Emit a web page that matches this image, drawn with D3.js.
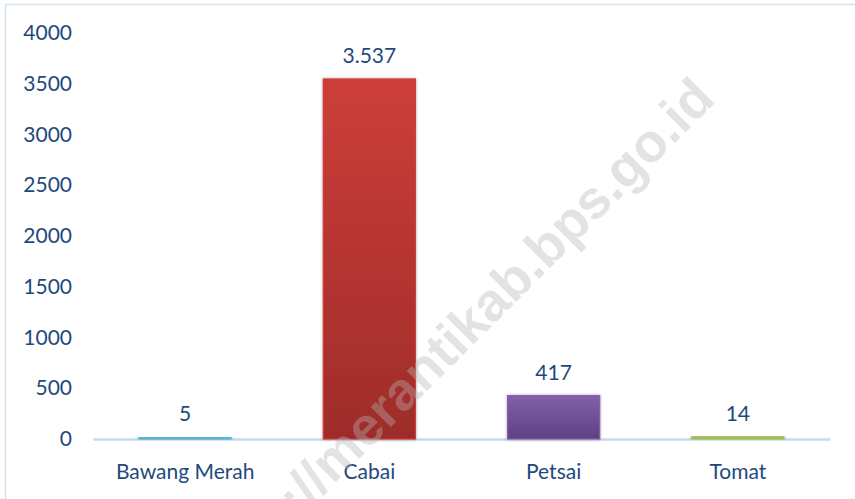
<!DOCTYPE html>
<html>
<head>
<meta charset="utf-8">
<script src="https://cdn.jsdelivr.net/npm/d3@7"></script>
<style>
  body { margin: 0; background: #fff; }
  text { font-family: Lato, "Liberation Sans", sans-serif; fill: #1f497d; }
</style>
</head>
<body>
<div class="chart"></div>
<script>
// data
let categories = ["Bawang Merah", "Cabai", "Petsai", "Tomat"];
let values = [5, 3537, 417, 14];
let yTicks = [0, 500, 1000, 1500, 2000, 2500, 3000, 3500, 4000];
let barColors = [
  ["#5bbad6", "#3f9bb5"],
  ["#cd3e3a", "#9e2c29"],
  ["#8260ab", "#5d4183"],
  ["#a6c664", "#8aab4a"]
];

let w = 855;
let h = 499;

let svg = d3.select(".chart")
            .append("svg")
            .attr("width", w)
            .attr("height", h);

let defs = svg.append("defs");

// soft shadow like the office chart
let shadow = defs.append("filter")
  .attr("id", "shadow")
  .attr("x", "-20%").attr("y", "-20%")
  .attr("width", "140%").attr("height", "140%");
shadow.append("feDropShadow")
  .attr("dx", 0).attr("dy", 0)
  .attr("stdDeviation", 1.6)
  .attr("flood-color", "#000")
  .attr("flood-opacity", 0.35);

barColors.forEach(function(c, i) {
  let g = defs.append("linearGradient")
    .attr("id", "grad" + i)
    .attr("x1", 0).attr("y1", 0).attr("x2", 0).attr("y2", 1);
  g.append("stop").attr("offset", "0%").attr("stop-color", c[0]);
  g.append("stop").attr("offset", "100%").attr("stop-color", c[1]);
});

// outer frame
svg.append("rect")
  .attr("x", 5.5).attr("y", 4.5)
  .attr("width", w).attr("height", h)
  .attr("fill", "#fff")
  .attr("stroke", "#d6e1f0")
  .attr("stroke-width", 1.5);

let x = d3.scaleBand()
  .domain(categories)
  .range([93, 830])
  .paddingInner(0.5)
  .paddingOuter(0.25);

let y = d3.scaleLinear()
  .domain([0, 4000])
  .range([439, 33]);

let idFormat = d3.formatLocale({
  decimal: ",", thousands: ".", grouping: [3], currency: ["", ""]
}).format(",d");

// y axis labels, no line, no grid
let yAxis = svg.append("g")
  .attr("transform", "translate(72,0)")
  .call(d3.axisLeft(y).tickValues(yTicks).tickSize(0).tickPadding(0).tickFormat(d3.format("d")));
yAxis.select(".domain").remove();
yAxis.selectAll("text")
  .style("font-size", "21px")
  .style("fill", "#1f497d")
  .style("font-family", "Lato, 'Liberation Sans', sans-serif");

// x axis line (drawn before the bars so tiny bars sit on top)
let xAxis = svg.append("g")
  .attr("transform", "translate(0," + y(0) + ")")
  .call(d3.axisBottom(x).tickSize(0).tickPadding(25));
xAxis.select(".domain")
  .attr("stroke", "#c9d8ec")
  .attr("stroke-width", 2.5);
xAxis.selectAll("text")
  .style("font-size", "21px")
  .style("fill", "#1f497d")
  .style("font-family", "Lato, 'Liberation Sans', sans-serif");

// bars
let data = categories.map(function(c, i) { return { cat: c, val: values[i], i: i }; });

svg.selectAll("rect.bar")
  .data(data)
  .enter()
  .append("rect")
  .attr("class", "bar")
  .attr("x", d => x(d.cat))
  .attr("y", d => y(d.val) - 1)
  .attr("width", x.bandwidth())
  .attr("height", d => y(0) - y(d.val) + 1)
  .attr("fill", d => "url(#grad" + d.i + ")")
  .attr("stroke", d => barColors[d.i][0])
  .attr("stroke-width", 1.2)
  .attr("filter", "url(#shadow)");

// value labels
svg.selectAll("text.val")
  .data(data)
  .enter()
  .append("text")
  .attr("class", "val")
  .attr("x", d => x(d.cat) + x.bandwidth() / 2)
  .attr("y", d => y(d.val) - 17)
  .attr("text-anchor", "middle")
  .style("font-size", "21px")
  .text(d => idFormat(d.val));

// watermark
svg.append("text")
  .attr("transform", "translate(717,101) rotate(-45)")
  .attr("text-anchor", "end")
  .style("font-family", "'Liberation Sans', Arial, sans-serif")
  .style("font-weight", "bold")
  .style("font-size", "54px")
  .style("fill", "#b5b5b5")
  .style("fill-opacity", 0.38)
  .text("http://merantikab.bps.go.id");
</script>
</body>
</html>
